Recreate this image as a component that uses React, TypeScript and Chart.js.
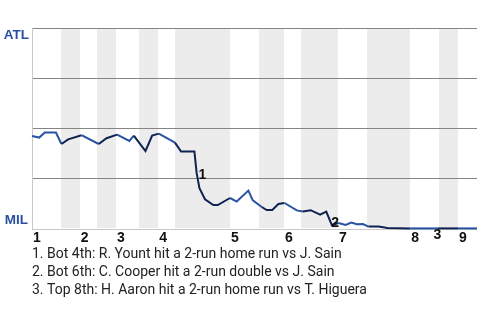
import React, { useEffect, useRef } from "react";
import { Chart, registerables } from "chart.js";

Chart.register(...registerables);

// Game progress (x units) and ATL win probability (0..1)
const progress = [0, 1.3, 2.3, 4.3, 5.3, 6.5, 8.9, 12, 13.4, 15.3, 17.5, 18.3, 20.4, 21.6, 22.8, 25.7, 26.8, 29.2, 29.6, 30.1, 31.1, 32.6, 33.4, 35.6, 36.8, 38.9, 39.7, 41.3, 42.2, 43.2, 44.3, 45.4, 47.6, 48.7, 50.1, 51.8, 52.9, 53.9, 55.1, 56.4, 57.4, 58.4, 59.5, 60.5, 62.3, 63.9, 68, 72.9, 76.6, 80];
const atlWinProb = [0.46, 0.452, 0.477, 0.477, 0.42, 0.443, 0.464, 0.42, 0.449, 0.467, 0.435, 0.462, 0.385, 0.462, 0.472, 0.427, 0.382, 0.382, 0.274, 0.199, 0.144, 0.115, 0.115, 0.15, 0.132, 0.187, 0.138, 0.105, 0.09, 0.09, 0.12, 0.125, 0.088, 0.082, 0.089, 0.067, 0.082, 0.015, 0.025, 0.015, 0.027, 0.019, 0.02, 0.007, 0.007, 0.0, -0.002, -0.002, -0.002, -0.002];

// Inning start positions and bottom-half ranges (shaded)
const inningLabels = ["1", "2", "3", "4", "5", "6", "7", "8", "9"];
const inningStarts = [0, 8.6, 15.1, 22.7, 35.6, 45.3, 55.0, 68.0, 76.6];
const bottomHalfStarts = [5.2, 11.7, 19.2, 25.7, 40.8, 48.4, 60.2, 73.2];
const bottomHalfEnds = [8.6, 15.1, 22.7, 35.6, 45.3, 55.0, 68.0, 76.6];

const gridValues = [0.25, 0.5, 0.75, 1];
const teamTop = "ATL";
const teamBottom = "MIL";

const annotationLabels = ["1", "2", "3"];
const annotationX = [30.65, 54.5, 72.9];
const annotationY = [0.262, 0.025, -0.035];
const footnotes = [
  "1. Bot 4th: R. Yount hit a 2-run home run vs J. Sain",
  "2. Bot 6th: C. Cooper hit a 2-run double vs J. Sain",
  "3. Top 8th: H. Aaron hit a 2-run home run vs T. Higuera",
];

const BLUE = "#2a52a3";
const NAVY = "#0e2352";

function inBottom(x: number) {
  for (let i = 0; i < bottomHalfStarts.length; i++) {
    if (x >= bottomHalfStarts[i] && x <= bottomHalfEnds[i]) return true;
  }
  return false;
}

const decorPlugin = {
  id: "decor",
  beforeDatasetsDraw(chart: any) {
    const { ctx, chartArea, scales } = chart;
    const xs = scales.x;
    const ys = scales.y;
    ctx.save();
    ctx.fillStyle = "#ececec";
    for (let i = 0; i < bottomHalfStarts.length; i++) {
      const x0 = Math.round(xs.getPixelForValue(bottomHalfStarts[i]));
      const x1 = Math.round(xs.getPixelForValue(bottomHalfEnds[i]));
      ctx.fillRect(x0, chartArea.top, x1 - x0, chartArea.bottom - chartArea.top);
    }
    ctx.strokeStyle = "#858585";
    ctx.lineWidth = 1;
    for (const v of gridValues) {
      const y = Math.round(ys.getPixelForValue(v)) + 0.5;
      ctx.beginPath();
      ctx.moveTo(chartArea.left, y);
      ctx.lineTo(chartArea.right, y);
      ctx.stroke();
    }
    ctx.strokeStyle = "#c8c8c8";
    const yb = Math.round(ys.getPixelForValue(0)) + 1.5;
    ctx.beginPath();
    ctx.moveTo(chartArea.left, yb);
    ctx.lineTo(chartArea.right, yb);
    ctx.stroke();
    ctx.beginPath();
    ctx.moveTo(chartArea.left + 0.5, chartArea.top);
    ctx.lineTo(chartArea.left + 0.5, yb);
    ctx.stroke();
    ctx.restore();
  },
  afterDatasetsDraw(chart: any) {
    const { ctx, chartArea, scales } = chart;
    const xs = scales.x;
    const ys = scales.y;
    ctx.save();
    ctx.font = "bold 13.5px 'Liberation Sans', Arial, sans-serif";
    ctx.fillStyle = "#2a4fa0";
    ctx.textAlign = "right";
    ctx.textBaseline = "alphabetic";
    ctx.fillText(teamTop, chartArea.left - 3, ys.getPixelForValue(1) + 11);
    ctx.fillText(teamBottom, chartArea.left - 4, ys.getPixelForValue(0) - 4);

    ctx.font = "bold 14px 'Liberation Sans', Arial, sans-serif";
    ctx.fillStyle = "#111";
    ctx.textAlign = "left";
    for (let i = 0; i < inningLabels.length; i++) {
      ctx.fillText(inningLabels[i], xs.getPixelForValue(inningStarts[i]) + 1, chartArea.bottom + 14);
    }
    ctx.textAlign = "center";
    ctx.textBaseline = "middle";
    for (let i = 0; i < annotationLabels.length; i++) {
      ctx.fillText(annotationLabels[i], xs.getPixelForValue(annotationX[i]), ys.getPixelForValue(annotationY[i]));
    }
    ctx.font = "14px Roboto";
    ctx.fillStyle = "#222";
    ctx.textAlign = "left";
    ctx.textBaseline = "alphabetic";
    for (let i = 0; i < footnotes.length; i++) {
      ctx.fillText(footnotes[i], chartArea.left, chartArea.bottom + 30 + i * 18);
    }
    ctx.restore();
  },
};

export default function App() {
  const ref = useRef<HTMLCanvasElement>(null);
  useEffect(() => {
    if (!ref.current) return;
    const chart = new Chart(ref.current, {
      type: "line",
      data: {
        datasets: [
          {
            data: progress.map((x, i) => ({ x, y: atlWinProb[i] })),
            borderColor: BLUE,
            borderWidth: 2,
            pointRadius: 0,
            tension: 0,
            fill: false,
            clip: false,
            segment: {
              borderColor: (c: any) =>
                inBottom((c.p0.parsed.x + c.p1.parsed.x) / 2) ? NAVY : BLUE,
            },
          },
        ],
      },
      options: {
        animation: false,
        responsive: false,
        maintainAspectRatio: false,
        layout: { padding: { left: 32, right: 3, top: 28, bottom: 92 } },
        plugins: { legend: { display: false }, tooltip: { enabled: false } },
        scales: {
          x: { type: "linear", min: 0, max: 80, display: false },
          y: { type: "linear", min: 0, max: 1, display: false },
        },
      },
      plugins: [decorPlugin],
    });
    return () => chart.destroy();
  }, []);
  return (
    <div style={{ position: "absolute", left: 0, top: 0, width: 480, height: 320, background: "#fff" }}>
      <canvas ref={ref} width={480} height={320} style={{ display: "block", width: 480, height: 320 }} />
    </div>
  );
}
